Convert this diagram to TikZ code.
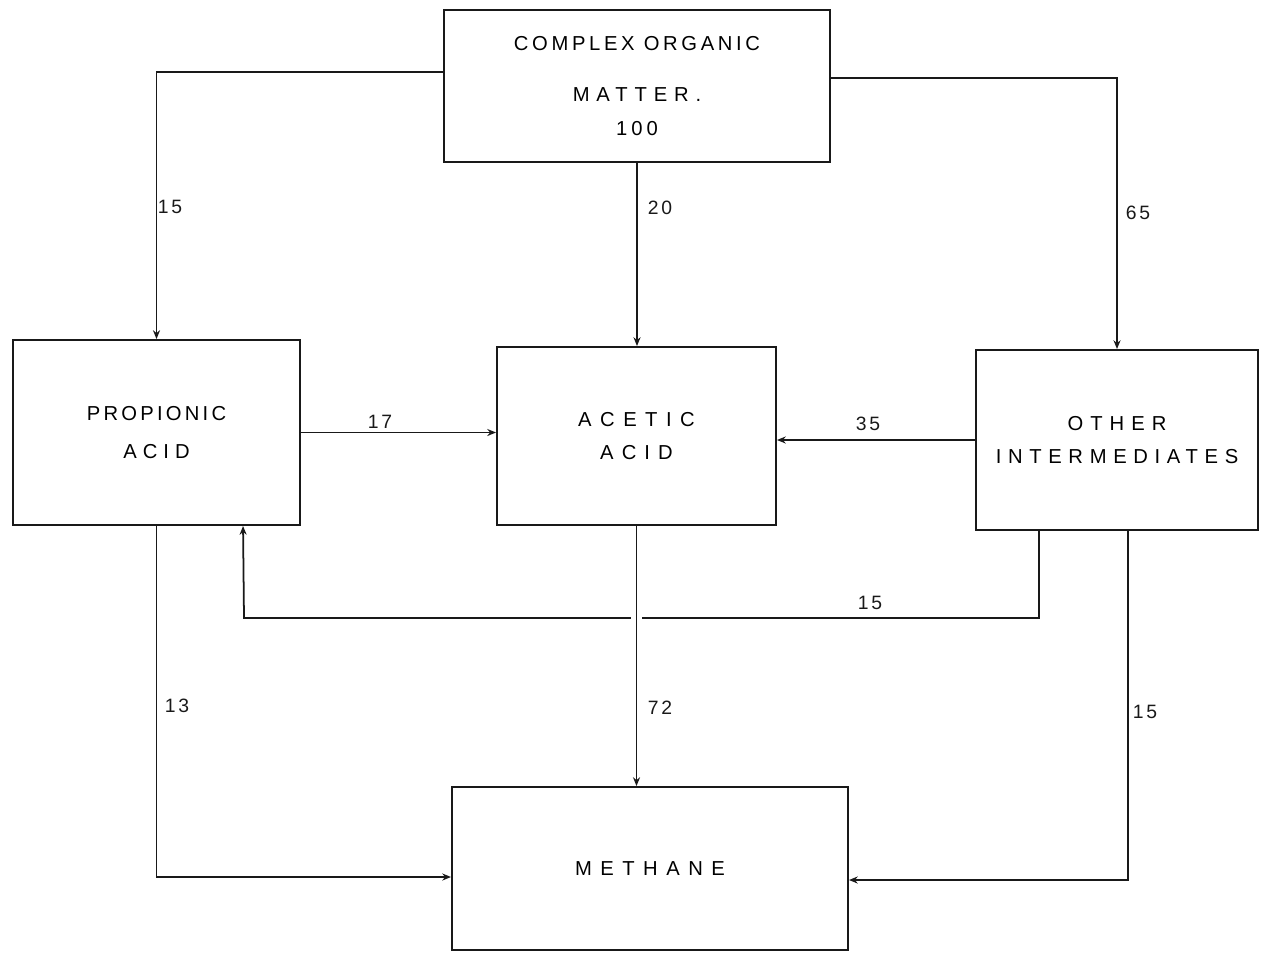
\documentclass[tikz,border=0pt]{standalone}
\usepackage{fontspec}
\usepackage{tikz}
\usetikzlibrary{arrows.meta,positioning,calc}
\newfontfamily\drawfont[LetterSpace=14]{Liberation Sans}
\newcommand{\wider}[1]{\addfontfeatures{LetterSpace=#1}}
\definecolor{InkBlack}{RGB}{25,25,25}
\tikzset{
  fbox/.style={draw=InkBlack,line width=1.1pt,align=center,inner sep=0pt,font=\drawfont\fontsize{11.5}{22}\selectfont},
  arr/.style={-{Stealth[length=5pt,width=4pt]},InkBlack,line width=1pt},
  num/.style={font=\drawfont\fontsize{11}{12}\selectfont,text=InkBlack},
}
\begin{document}
\begin{tikzpicture}
        \useasboundingbox (0,0) rectangle (25.32,-19.1);
        \node[fbox,minimum width=7.72cm,minimum height=3.04cm] (org) at (12.74,-1.72) {\wider{18}COMPLEX ORGANIC\\[7pt]\wider{34}MATTER.\\[-3pt]\wider{20}100};
        \node[fbox,minimum width=5.74cm,minimum height=3.7cm] (prop) at (3.13,-8.65) {\wider{16}PROPIONIC\\\wider{30}ACID};
        \node[fbox,minimum width=5.58cm,minimum height=3.56cm] (acet) at (12.73,-8.72) {\wider{42}ACETIC\\[-3pt]\wider{40}ACID};
        \node[fbox,minimum width=5.64cm,minimum height=3.6cm] (oth) at (22.34,-8.8) {\wider{35}OTHER\\[-3pt]\wider{33}INTERMEDIATES};
        \node[fbox,minimum width=7.92cm,minimum height=3.26cm] (meth) at (13.0,-17.37) {\wider{42}METHANE};
        \coordinate (back) at (4.88,-12.36);
        \draw[arr] ([yshift=0.28cm]org.west) -| (prop.north);
        \draw[arr] (org.south) -- (org.south |- acet.north);
        \draw[arr] ([yshift=0.16cm]org.east) -| (oth.north);
        \draw[arr] (prop.east) -- (prop.east -| acet.west);
        \draw[arr] (oth.west) -- (oth.west -| acet.east);
        \draw[arr] ([xshift=1.28cm]oth.south west) |- (back) -- ([xshift=4.62cm]prop.south west);
        \draw[arr] (prop.south) |- ([yshift=-0.17cm]meth.west);
        \draw[arr,preaction={draw=white,line width=6pt,-}] (acet.south) -- (acet.south |- meth.north);
        \draw[arr] ([xshift=0.22cm]oth.south) |- ([yshift=-0.23cm]meth.east);
        \node[num] (n1) at (3.4,-4.14) {15};
        \node[num] (n2) at (13.2,-4.16) {20};
        \node[num] (n3) at (22.76,-4.26) {65};
        \node[num] (n4) at (7.6,-8.44) {17};
        \node[num] (n5) at (17.36,-8.48) {35};
        \node[num] (n6) at (17.4,-12.06) {15};
        \node[num] (n7) at (3.54,-14.12) {13};
        \node[num] (n8) at (13.2,-14.16) {72};
        \node[num] (n9) at (22.9,-14.24) {15};
      \end{tikzpicture}
\end{document}
